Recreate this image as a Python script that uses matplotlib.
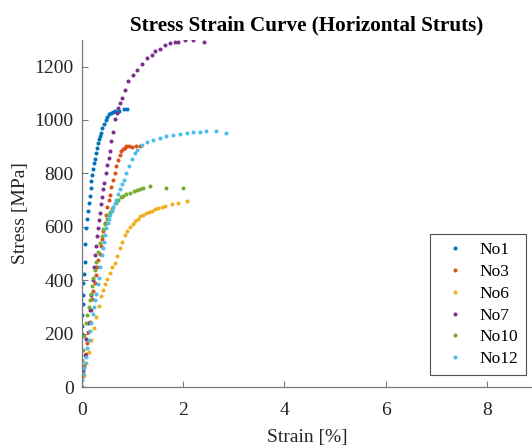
import matplotlib
matplotlib.use("Agg")
import matplotlib.pyplot as plt

plt.rcParams['font.family'] = ['Liberation Serif', 'DejaVu Serif']

# Specimen labels and MATLAB default colour order
labels = ["No1", "No3", "No6", "No7", "No10", "No12"]
colors = ["#0072BD", "#D95319", "#EDB120", "#7E2F8E", "#77AC30", "#4DBEEE"]

# Strain [%] / Stress [MPa] for each specimen
no1_strain = [0.00, 0.005, 0.01, 0.015, 0.02, 0.03, 0.04, 0.053, 0.07, 0.085, 0.10, 0.12,
              0.135, 0.152, 0.17, 0.185, 0.20, 0.217, 0.235, 0.25, 0.27, 0.29, 0.31, 0.33,
              0.35, 0.37, 0.40, 0.43, 0.47, 0.50, 0.54, 0.58, 0.62, 0.66, 0.725, 0.84, 0.895]
no1_stress = [200, 230, 270, 310, 345, 390, 425, 469, 535, 596, 630, 660,
              690, 715, 745, 770, 795, 815, 838, 855, 878, 895, 912, 928,
              940, 952, 970, 985, 1001, 1012, 1022, 1027, 1030, 1033, 1035, 1042, 1042]

no3_strain = [0.00, 0.025, 0.05, 0.075, 0.10, 0.125, 0.15, 0.175, 0.20, 0.225, 0.25, 0.275,
              0.30, 0.325, 0.35, 0.375, 0.40, 0.425, 0.45, 0.475, 0.50, 0.525, 0.547, 0.58,
              0.613, 0.645, 0.678, 0.711, 0.745, 0.777, 0.81, 0.845, 0.876, 0.93, 0.98,
              1.07, 1.146]
no3_stress = [0, 40, 80, 122, 165, 205, 245, 288, 330, 360, 390, 420,
              450, 475, 500, 528, 555, 585, 615, 645, 675, 700, 720, 750,
              776, 800, 826, 852, 870, 885, 893, 897, 901, 902, 900,
              904, 903]

no6_strain = [0.00, 0.04, 0.085, 0.13, 0.184, 0.23, 0.283, 0.33, 0.38, 0.415, 0.45, 0.50,
              0.553, 0.60, 0.646, 0.70, 0.75, 0.80, 0.85, 0.90, 0.95, 1.00, 1.05, 1.10,
              1.146, 1.20, 1.265, 1.32, 1.38, 1.45, 1.51, 1.58, 1.64, 1.77, 1.90, 2.07]
no6_stress = [0, 45, 89, 130, 176, 220, 264, 305, 340, 364, 385, 405,
              426, 448, 465, 490, 520, 545, 568, 585, 601, 612, 622, 630,
              639, 645, 651, 656, 661, 666, 670, 675, 679, 685, 691, 695]

no7_strain = [0.00, 0.03, 0.06, 0.09, 0.119, 0.15, 0.184, 0.21, 0.237, 0.26, 0.28, 0.30,
              0.316, 0.335, 0.35, 0.375, 0.395, 0.42, 0.44, 0.47, 0.50, 0.525, 0.55, 0.58,
              0.613, 0.652, 0.685, 0.717, 0.75, 0.785, 0.85, 0.915, 1.014, 1.081, 1.18,
              1.279, 1.377, 1.443, 1.54, 1.64, 1.74, 1.84, 1.90, 2.04, 2.19, 2.42]
no7_stress = [0, 60, 120, 180, 240, 290, 345, 400, 450, 495, 530, 565,
              596, 625, 650, 685, 710, 740, 765, 800, 830, 858, 885, 920,
              955, 1005, 1025, 1045, 1065, 1083, 1114, 1145, 1170, 1189, 1210,
              1233, 1245, 1260, 1266, 1279, 1289, 1293, 1293, 1299, 1299, 1293]

no10_strain = [0.00, 0.00, 0.01, 0.02, 0.05, 0.085, 0.11, 0.13, 0.15, 0.172, 0.195, 0.217,
               0.25, 0.283, 0.32, 0.356, 0.39, 0.42, 0.45, 0.488, 0.52, 0.553, 0.585,
               0.62, 0.67, 0.72, 0.77, 0.82, 0.88, 0.95, 1.02, 1.08, 1.15, 1.21, 1.34,
               1.66, 1.99]
no10_stress = [0, 52, 100, 139, 190, 240, 270, 300, 325, 350, 380, 408,
               440, 470, 505, 540, 565, 590, 610, 630, 645, 657, 667,
               676, 690, 701, 710, 716, 722, 728, 735, 739, 743, 746, 751,
               747, 744]

no12_strain = [0.00, 0.00, 0.02, 0.04, 0.06, 0.085, 0.11, 0.13, 0.155, 0.184, 0.21, 0.23,
               0.255, 0.283, 0.31, 0.33, 0.36, 0.395, 0.42, 0.44, 0.46, 0.48, 0.51, 0.53,
               0.56, 0.587, 0.62, 0.652, 0.68, 0.72, 0.76, 0.80, 0.83, 0.875, 0.92, 0.98,
               1.04, 1.09, 1.18, 1.28, 1.41, 1.54, 1.67, 1.80, 1.94, 2.07, 2.20, 2.33,
               2.46, 2.65, 2.85]
no12_stress = [0, 26, 50, 70, 92, 113, 145, 175, 210, 240, 272, 300,
               325, 350, 385, 408, 450, 495, 520, 545, 570, 595, 615, 630,
               645, 658, 675, 690, 701, 722, 740, 760, 776, 800, 826, 855,
               875, 889, 905, 916, 924, 932, 939, 945, 949, 951, 954, 954,
               957, 957, 951]

strains = [no1_strain, no3_strain, no6_strain, no7_strain, no10_strain, no12_strain]
stresses = [no1_stress, no3_stress, no6_stress, no7_stress, no10_stress, no12_stress]

fig = plt.figure(figsize=(5.32, 4.48), dpi=100)
ax = fig.add_axes([0.154, 0.136, 0.846, 0.775])

for x, y, c, lab in zip(strains, stresses, colors, labels):
    ax.plot(x, y, linestyle="none", marker=".", markersize=3.8, color=c, label=lab)

ax.set_xlim(0, 8.89)
ax.set_ylim(0, 1300)
ax.set_xticks([0, 2, 4, 6, 8])
ax.set_yticks([0, 200, 400, 600, 800, 1000, 1200])

for side in ("top", "right"):
    ax.spines[side].set_visible(False)
for side in ("left", "bottom"):
    ax.spines[side].set_color("#7a7a7a")
    ax.spines[side].set_linewidth(0.9)

ax.tick_params(axis="both", direction="in", length=4, width=0.8, color="#7a7a7a",
               labelsize=14, labelcolor="#262626")
ax.tick_params(axis="x", pad=11)
ax.tick_params(axis="y", pad=6)

ax.set_xlabel("Strain [%]", fontsize=14, color="#262626", labelpad=7)
ax.set_ylabel("Stress [MPa]", fontsize=14, color="#262626", labelpad=3.5)
ax.set_title("Stress Strain Curve (Horizontal Struts)", fontsize=15.2, fontweight="bold",
             color="black", pad=7)

leg = ax.legend(loc="upper right", bbox_to_anchor=(526 / 532, 1 - 234 / 448),
                bbox_transform=fig.transFigure, borderaxespad=0, fontsize=12.5,
                frameon=True, fancybox=False, handlelength=2.0, handletextpad=0.38,
                labelspacing=0.33, borderpad=0.45, markerscale=1.0)
leg.get_frame().set_edgecolor("#262626")
leg.get_frame().set_linewidth(0.8)
for t in leg.get_texts():
    t.set_color("black")

fig.savefig("out.png", dpi=100)
